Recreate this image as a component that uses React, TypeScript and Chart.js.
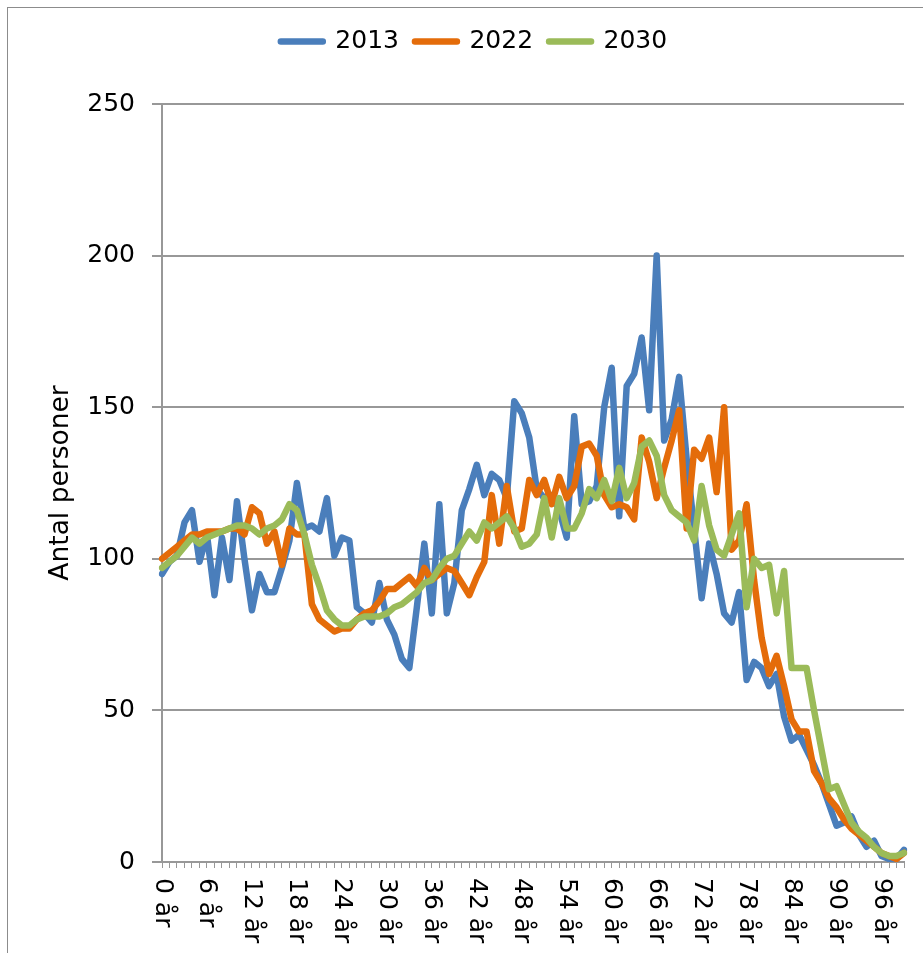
import React, { useEffect, useRef } from 'react';
import { Chart, registerables } from 'chart.js';

Chart.register(...registerables);

const ages: string[] = Array.from({ length: 100 }, (_, i) => `${i} år`);
const labelStep = 6;
const yTicksMax = 250;
const yTicksStep = 50;

const series2013 = [
  95, 99, 101, 112, 116, 99, 108, 88, 107, 93,
  119, 100, 83, 95, 89, 89, 97, 106, 125, 110,
  111, 109, 120, 101, 107, 106, 84, 82, 79, 92,
  80, 75, 67, 64, 84, 105, 82, 118, 82, 92,
  116, 123, 131, 121, 128, 126, 120, 152, 148, 140,
  123, 120, 121, 116, 107, 147, 118, 119, 124, 150,
  163, 114, 157, 161, 173, 149, 200, 139, 146, 160,
  133, 110, 87, 105, 95, 82, 79, 89, 60, 66,
  64, 58, 62, 48, 40, 42, 37, 32, 26, 19,
  12, 13, 15, 9, 5, 7, 2, 1, 1, 4,
];

const series2022 = [
  100, 102, 104, 106, 108, 108, 109, 109, 109, 110,
  110, 108, 117, 115, 105, 109, 98, 110, 108, 108,
  85, 80, 78, 76, 77, 77, 80, 82, 83, 86,
  90, 90, 92, 94, 91, 97, 93, 95, 97, 96,
  92, 88, 94, 99, 121, 105, 124, 109, 110, 126,
  121, 126, 118, 127, 120, 124, 137, 138, 134, 121,
  117, 118, 117, 113, 140, 132, 120, 130, 139, 149,
  110, 136, 133, 140, 122, 150, 103, 106, 118, 93,
  74, 62, 68, 58, 47, 43, 43, 30, 26, 21,
  18, 14, 11, 9, 7, 5, 3, 2, 1, 3,
];

const series2030 = [
  97, 99, 101, 104, 107, 105, 107, 108, 109, 110,
  111, 111, 110, 108, 110, 111, 113, 118, 116, 108,
  98, 91, 83, 80, 78, 78, 80, 81, 81, 81,
  82, 84, 85, 87, 89, 92, 93, 97, 100, 101,
  105, 109, 106, 112, 110, 112, 114, 110, 104, 105,
  108, 120, 107, 120, 110, 110, 115, 123, 120, 126,
  119, 130, 120, 125, 137, 139, 134, 121, 116, 114,
  112, 106, 124, 111, 103, 101, 108, 115, 84, 100,
  97, 98, 82, 96, 64, 64, 64, 50, 37, 24,
  25, 19, 13, 10, 8, 5, 3, 2, 2, 3,
];

const seriesNames = ['2013', '2022', '2030'];
const seriesColors = ['#4a7ebb', '#e46c0a', '#9bbb59'];

const FONT = "'DejaVu Sans', sans-serif";
const GRID = '#989898';

export default function App() {
  const ref = useRef<HTMLCanvasElement>(null);

  useEffect(() => {
    if (!ref.current) return;
    const xLabelsPlugin = {
      id: 'xLabelsRotated',
      afterDraw(chart: any) {
        const { ctx } = chart;
        const x = chart.scales.x;
        ctx.save();
        ctx.font = `25px ${FONT}`;
        ctx.fillStyle = '#000';
        ctx.textAlign = 'left';
        ctx.textBaseline = 'middle';
        ages.forEach((lab, i) => {
          if (i % labelStep !== 0) return;
          const px = x.getPixelForValue(i);
          ctx.save();
          ctx.translate(px, x.top + 16);
          ctx.rotate(Math.PI / 2);
          ctx.fillText(lab, 0, 0);
          ctx.restore();
        });
        ctx.restore();
      },
    };

    const all = [series2013, series2022, series2030];
    const chart = new Chart(ref.current, {
      type: 'line',
      data: {
        labels: ages,
        datasets: all.map((d, i) => ({
          label: seriesNames[i],
          data: d,
          borderColor: seriesColors[i],
          backgroundColor: seriesColors[i],
          borderWidth: 6.5,
          borderCapStyle: 'round',
          borderJoinStyle: 'round',
          pointRadius: 0,
          tension: 0,
          order: 2 - i,
        })),
      },
      options: {
        animation: false,
        responsive: false,
        devicePixelRatio: 1,
        layout: { padding: { top: 13, left: 44, right: 19, bottom: 0 } },
        plugins: {
          legend: {
            position: 'top',
            labels: {
              boxWidth: 42,
              boxHeight: 0,
              padding: 16,
              color: '#000',
              font: { family: FONT, size: 25 },
              sort: (a: any, b: any) => a.datasetIndex - b.datasetIndex,
            },
          },
          title: {
            display: true,
            text: '',
            weight: 500,
            font: { size: 1, lineHeight: 1 },
            padding: { top: 0, bottom: 39 },
          },
          tooltip: { enabled: false },
        },
        scales: {
          x: {
            type: 'category',
            offset: false,
            grid: {
              display: true,
              drawOnChartArea: false,
              drawTicks: true,
              tickLength: 6,
              color: GRID,
              lineWidth: 1,
            },
            border: { display: true, color: GRID, width: 2 },
            ticks: { display: false, autoSkip: false },
            afterFit: (s: any) => {
              s.height = 91;
            },
          },
          y: {
            min: 0,
            max: yTicksMax,
            ticks: {
              stepSize: yTicksStep,
              padding: 17,
              color: '#000',
              font: { family: FONT, size: 25 },
            },
            grid: { color: GRID, lineWidth: 2, tickLength: 10, drawTicks: true },
            border: { display: true, color: GRID, width: 2 },
            title: {
              display: true,
              text: 'Antal personer',
              color: '#000',
              font: { family: FONT, size: 26.5 },
              padding: { top: 1, bottom: 0 },
            },
            afterFit: (s: any) => {
              s.width = 118;
            },
          },
        },
      } as any,
      plugins: [xLabelsPlugin],
    });
    return () => chart.destroy();
  }, []);

  return (
    <>
      <div
        style={{
          position: 'fixed',
          left: 7,
          top: 7,
          width: 960,
          height: 980,
          borderTop: '1px solid #8c8c8c',
          borderLeft: '1px solid #8c8c8c',
          boxSizing: 'border-box',
        }}
      />
      <canvas
        ref={ref}
        width={923}
        height={953}
        style={{ position: 'fixed', left: 0, top: 0, width: 923, height: 953 }}
      />
    </>
  );
}
